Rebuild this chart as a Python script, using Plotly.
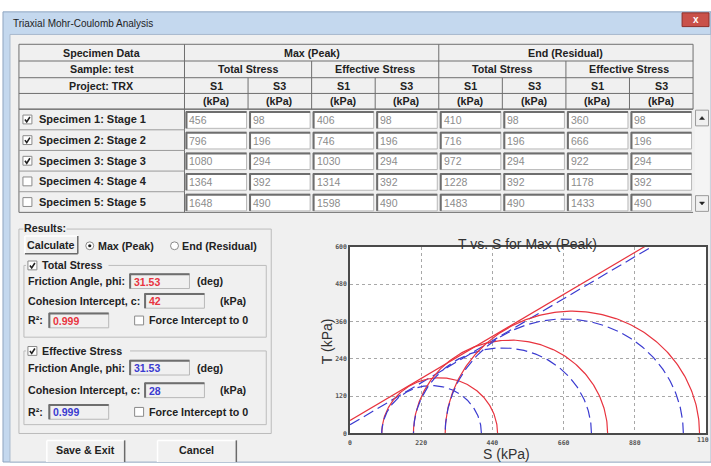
import numpy as np
import plotly.graph_objects as go

W, H = 711, 466

# ---------------- data ----------------
specimens = ["Specimen 1: Stage 1", "Specimen 2: Stage 2", "Specimen 3: Stage 3",
             "Specimen 4: Stage 4", "Specimen 5: Stage 5"]
checked = [True, True, True, False, False]
peak_total_s1 = [456, 796, 1080, 1364, 1648]
peak_total_s3 = [98, 196, 294, 392, 490]
peak_eff_s1 = [406, 746, 1030, 1314, 1598]
peak_eff_s3 = [98, 196, 294, 392, 490]
end_total_s1 = [410, 716, 972, 1228, 1483]
end_total_s3 = [98, 196, 294, 392, 490]
end_eff_s1 = [360, 666, 922, 1178, 1433]
end_eff_s3 = [98, 196, 294, 392, 490]

phi_total, c_total, r2_total = 31.53, 42, 0.999
phi_eff, c_eff, r2_eff = 31.53, 28, 0.999

x_ticks = [0, 220, 440, 660, 880]
x_tick_last = "110"      # the "1100" label is cut by the dialog edge
y_ticks = [0, 120, 240, 360, 480, 600]

RED = "#e8343f"
BLUE = "#3b3bd0"
UIFONT = "Liberation Sans, Arial, sans-serif"
FS = 10.7


def px(x):
    return min(max(x, 0), W) / W


def py(y):
    return 1 - min(max(y, 0), H) / H


shapes = []
annotations = []


def rect(x0, y0, x1, y1, fill=None, line=None, lw=1, layer="above"):
    shapes.append(dict(type="rect", xref="paper", yref="paper",
                       x0=px(x0), x1=px(x1), y0=py(y1), y1=py(y0),
                       fillcolor=fill if fill else "rgba(0,0,0,0)",
                       line=dict(color=line if line else "rgba(0,0,0,0)", width=lw if line else 0),
                       layer=layer))


def hline(x0, x1, y, color, lw=1):
    shapes.append(dict(type="line", xref="paper", yref="paper",
                       x0=px(x0), x1=px(x1), y0=py(y), y1=py(y),
                       line=dict(color=color, width=lw)))


def vline(x, y0, y1, color, lw=1):
    shapes.append(dict(type="line", xref="paper", yref="paper",
                       x0=px(x), x1=px(x), y0=py(y0), y1=py(y1),
                       line=dict(color=color, width=lw)))


def text(x, y, s, size=FS, color="#222", anchor="left", bold=True, family=UIFONT, bg=None):
    d = dict(x=px(x), y=py(y), xref="paper", yref="paper", text=("<b>%s</b>" % s) if bold else s,
             showarrow=False, xanchor=anchor, yanchor="middle",
             font=dict(size=size, color=color, family=family), borderpad=0)
    if bg:
        d["bgcolor"] = bg
    annotations.append(d)


def checkbox(x, y, on):
    rect(x, y - 4.5, x + 9, y + 4.5, fill="white", line="#8a8a8a")
    if on:
        p = "M %f,%f L %f,%f L %f,%f" % (px(x + 2), py(y), px(x + 3.8), py(y + 2.5), px(x + 7), py(y - 2.5))
        shapes.append(dict(type="path", xref="paper", yref="paper", path=p,
                           line=dict(color="#222", width=1.6)))


def radio(x, y, on):
    shapes.append(dict(type="circle", xref="paper", yref="paper", x0=px(x - 4), x1=px(x + 4),
                       y0=py(y + 4), y1=py(y - 4), fillcolor="white", line=dict(color="#8a8a8a", width=1)))
    if on:
        shapes.append(dict(type="circle", xref="paper", yref="paper", x0=px(x - 1.6), x1=px(x + 1.6),
                           y0=py(y + 1.6), y1=py(y - 1.6), fillcolor="#222", line=dict(width=0)))


def sunken(x0, y0, x1, y1, fill="white"):
    rect(x0, y0, x1, y1, fill=fill, line="#b8b8b8")
    hline(x0, x1, y0 + 0.5, "#6e6e6e", 2)
    vline(x0 + 0.5, y0, y1, "#6e6e6e", 2)


def button(x0, y0, x1, y1, label, ty=None):
    rect(x0, y0, x1, y1, fill="#f0f0f0")
    hline(x0, x1, y0, "#ffffff", 1.5)
    vline(x0, y0, y1, "#ffffff", 1.5)
    if y1 < H:
        hline(x0, x1, y1, "#6a6a6a", 1.5)
    vline(x1, y0, y1, "#6a6a6a", 1.5)
    text((x0 + x1) / 2, ty if ty else (y0 + y1) / 2, label, anchor="center")


# ---------------- window chrome ----------------
rect(1, 8, 711, 466, fill="#c4d8ee", line="#8ea4c0", layer="below")
rect(8, 31, 711, 466, fill="#f0f0f0", line="#a9b9cd", layer="below")
rect(349, 247, 706, 437, fill="white", layer="below")
text(10, 20, "Triaxial Mohr-Coulomb Analysis", size=10, color="#1e1e1e", bold=False)
rect(682, 9, 709, 23, fill="#c9514a", line="#8c2f2a")
text(695.5, 16, "x", size=10, color="white", anchor="center")

# ---------------- specimen table ----------------
cols = [17] + [183 + i * (693 - 183) / 8 for i in range(9)]
hrows = [41, 58, 75, 91, 107]
drows = [107 + 21 * i for i in range(6)]
GRID = "#6f6f6f"

rect(17, 41, 693, 107, fill="#f0f0f0", line=GRID)
for y in hrows[1:4]:
    hline(17, 693, y, GRID)
hline(17, 693, 107, GRID)
vline(183, 41, 212, GRID)
vline(438, 41, 107, GRID)
for c in (cols[3], cols[7]):
    vline(c, 58, 107, GRID)
for c in (cols[2], cols[4], cols[6], cols[8]):
    vline(c, 75, 107, GRID)
vline(17, 107, 212, GRID)
hline(17, 693, 212, GRID)
for y in drows[1:5]:
    hline(17, 183, y, "#9a9a9a")

text(100, 49.5, "Specimen Data", anchor="center")
text(100, 66.5, "Sample: test", anchor="center")
text(100, 83, "Project: TRX", anchor="center")
text((cols[1] + cols[5]) / 2, 49.5, "Max (Peak)", anchor="center")
text((cols[5] + cols[9]) / 2, 49.5, "End (Residual)", anchor="center")
for k, lab in enumerate(["Total Stress", "Effective Stress", "Total Stress", "Effective Stress"]):
    text((cols[1 + 2 * k] + cols[3 + 2 * k]) / 2, 66.5, lab, anchor="center")
for k in range(8):
    cx = (cols[1 + k] + cols[2 + k]) / 2
    text(cx, 83, "S1" if k % 2 == 0 else "S3", anchor="center")
    text(cx, 99, "(kPa)", anchor="center")

columns = [peak_total_s1, peak_total_s3, peak_eff_s1, peak_eff_s3,
           end_total_s1, end_total_s3, end_eff_s1, end_eff_s3]
for i, name in enumerate(specimens):
    y0, y1 = drows[i], drows[i + 1]
    yc = (y0 + y1) / 2
    checkbox(21, yc, checked[i])
    text(36, yc, name, size=11)
    for k, col in enumerate(columns):
        x0, x1 = cols[1 + k], cols[2 + k]
        sunken(x0 + 1.5, y0 + 2.5, x1 - 1.5, y1 - 1.5)
        text(x0 + 4, yc + 0.5, str(col[i]), size=10.5, color="#8c8c8c", bold=False)

# scroll bar
rect(695, 107, 709, 212, fill="#f4f4f4")
for (ya, yb, up) in [(108, 124, True), (195, 211, False)]:
    rect(695.5, ya, 708.5, yb, fill="#f0f0f0", line="#9a9a9a")
    yc = (ya + yb) / 2
    if up:
        p = "M %f,%f L %f,%f L %f,%f Z" % (px(699.5), py(yc + 1.5), px(704.5), py(yc + 1.5), px(702), py(yc - 1.5))
    else:
        p = "M %f,%f L %f,%f L %f,%f Z" % (px(699.5), py(yc - 1.5), px(704.5), py(yc - 1.5), px(702), py(yc + 1.5))
    shapes.append(dict(type="path", xref="paper", yref="paper", path=p, fillcolor="#222",
                       line=dict(color="#222", width=0.5)))

# ---------------- results panel ----------------
rect(17, 229, 270, 437, line="#bcbcbc")
text(21, 228, "Results:", bg="#f0f0f0")
button(23, 236, 76, 254, "Calculate")
radio(88, 246, True)
text(95, 246, "Max (Peak)")
radio(173, 246, False)
text(180, 246, "End (Residual)")


def stress_group(top, bottom, title, rows_y, vals, color):
    rect(22, top, 265, bottom, line="#bcbcbc")
    rect(24, top - 6, 42 + len(title) * 5.4, top + 6, fill="#f0f0f0")
    checkbox(26, top, True)
    text(39, top, title)
    yf, yc_, yr = rows_y
    text(25, yf, "Friction Angle, phi:")
    sunken(128, yf - 7.5, 188, yf + 7.5, fill="#f0f0f0")
    text(131, yf + 0.5, vals[0], size=10.5, color=color)
    text(195, yf, "(deg)")
    text(25, yc_, "Cohesion Intercept, c:")
    sunken(143, yc_ - 7.5, 203, yc_ + 7.5, fill="#f0f0f0")
    text(146, yc_ + 0.5, vals[1], size=10.5, color=color)
    text(218, yc_, "(kPa)")
    text(25, yr, "R\u00b2:")
    sunken(47, yr - 7.5, 107, yr + 7.5, fill="#f0f0f0")
    text(50, yr + 0.5, vals[2], size=10.5, color=color)
    checkbox(133, yr, False)
    text(146, yr, "Force Intercept to 0")


stress_group(266, 339, "Total Stress", (282, 302, 322),
             ("%.2f" % phi_total, "%d" % c_total, "%.3f" % r2_total), RED)
stress_group(353, 428, "Effective Stress", (370, 393, 415),
             ("%.2f" % phi_eff, "%d" % c_eff, "%.3f" % r2_eff), BLUE)

button(45, 444, 123, 470, "Save & Exit", ty=453.5)
button(156, 444, 235, 470, "Cancel", ty=453.5)

# ---------------- Mohr-Coulomb chart ----------------
fig = go.Figure()
theta = np.linspace(0, np.pi, 181)
sel = [i for i in range(len(specimens)) if checked[i]]
DASH = "11px,5px"

s_line = np.array([0, 1100])
fig.add_trace(go.Scatter(x=s_line, y=c_total + s_line * np.tan(np.radians(phi_total)), mode="lines",
                         line=dict(color=RED, width=1.2), hoverinfo="skip"))
fig.add_trace(go.Scatter(x=s_line, y=c_eff + s_line * np.tan(np.radians(phi_eff)), mode="lines",
                         line=dict(color=BLUE, width=1.2, dash=DASH), hoverinfo="skip"))
for i in sel:
    cen = (peak_total_s1[i] + peak_total_s3[i]) / 2
    rad = (peak_total_s1[i] - peak_total_s3[i]) / 2
    fig.add_trace(go.Scatter(x=cen + rad * np.cos(theta), y=rad * np.sin(theta), mode="lines",
                             line=dict(color=RED, width=1.2), hoverinfo="skip"))
    cen = (peak_eff_s1[i] + peak_eff_s3[i]) / 2
    rad = (peak_eff_s1[i] - peak_eff_s3[i]) / 2
    fig.add_trace(go.Scatter(x=cen + rad * np.cos(theta), y=rad * np.sin(theta), mode="lines",
                             line=dict(color=BLUE, width=1.2, dash=DASH), hoverinfo="skip"))

text(527, 244, "T vs. S for Max (Peak)", size=14, color="#333", bold=False, anchor="center")
text(506, 458, "S (kPa)", size=14, color="#333", bold=False, anchor="center")
annotations.append(dict(x=px(326), y=py(343), xref="paper", yref="paper", text="T (kPa)",
                        textangle=-90, showarrow=False, xanchor="center", yanchor="middle",
                        font=dict(size=14, color="#333", family=UIFONT)))
TICKFONT = dict(family="DejaVu Sans Mono, monospace", size=6.5, color="#555", weight="bold")
annotations.append(dict(x=1.0, y=py(443.5), xref="paper", yref="paper", text=x_tick_last,
                        showarrow=False, xanchor="right", yanchor="middle", font=TICKFONT))

axis_common = dict(showline=True, mirror=True, linecolor="#4a4a4a", linewidth=1.5,
                   showgrid=True, gridcolor="#a8a8a8", griddash="dot", gridwidth=1,
                   zeroline=False, ticks="", fixedrange=True, tickfont=TICKFONT)
fig.update_layout(
    width=W, height=H, margin=dict(l=0, r=0, t=0, b=0),
    paper_bgcolor="white", plot_bgcolor="white", showlegend=False,
    xaxis=dict(domain=[px(349), px(706)], range=[0, 1100], tickvals=x_ticks + [1100],
               ticktext=[str(v) for v in x_ticks] + [""], ticklabelstandoff=2, **axis_common),
    yaxis=dict(domain=[py(437), py(247)], range=[0, 600], tickvals=y_ticks,
               ticktext=[str(v) for v in y_ticks], **axis_common),
    shapes=shapes, annotations=annotations,
)
fig.write_html("out.html")
